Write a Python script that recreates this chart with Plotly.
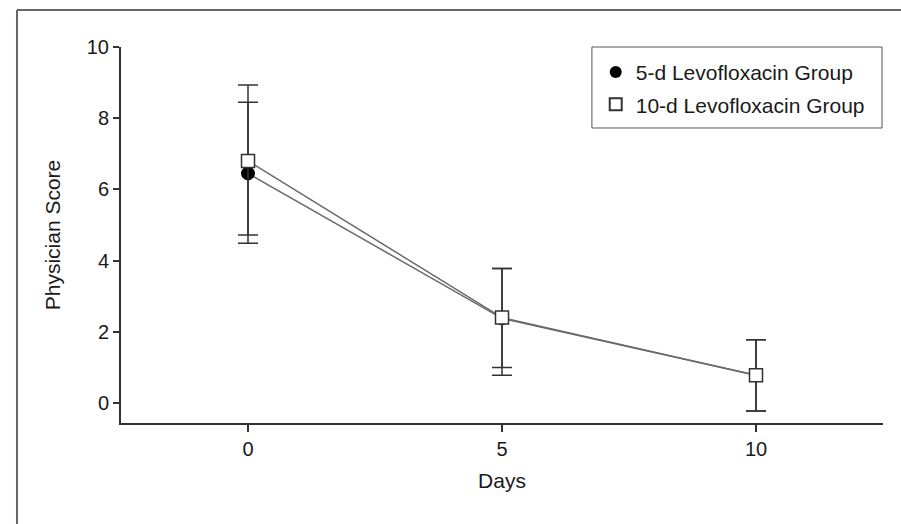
import plotly.graph_objects as go

days = [0, 5, 10]
group5_name = "5-d Levofloxacin Group"
group10_name = "10-d Levofloxacin Group"
group5_mean = [6.45, 2.38, 0.78]
group5_upper = [8.45, 3.78, 1.78]
group5_lower = [4.49, 0.78, -0.22]
group10_mean = [6.8, 2.4, 0.78]
group10_upper = [8.93, 3.78, 1.78]
group10_lower = [4.72, 1.0, -0.22]
x_ticks = [0, 5, 10]
y_ticks = [0, 2, 4, 6, 8, 10]

FONT = "Liberation Sans, Arial, Helvetica, sans-serif"
TXT = "#1a1a1a"

def err(mean, up, lo):
    return dict(
        type="data", symmetric=False,
        array=[u - m for u, m in zip(up, mean)],
        arrayminus=[m - l for m, l in zip(mean, lo)],
        color="#333333", thickness=1.5, width=10,
    )

fig = go.Figure()
fig.add_trace(go.Scatter(
    x=days, y=group5_mean, mode="lines+markers", showlegend=False,
    line=dict(color="#6a6a6a", width=1.5),
    marker=dict(symbol="circle", size=13, color="black", line=dict(color="black", width=1)),
    error_y=err(group5_mean, group5_upper, group5_lower),
))
fig.add_trace(go.Scatter(
    x=days, y=group10_mean, mode="lines+markers", showlegend=False,
    line=dict(color="#6a6a6a", width=1.5),
    marker=dict(symbol="square", size=13, color="white", line=dict(color="#333333", width=1.5)),
    error_y=err(group10_mean, group10_upper, group10_lower),
))
# legend-only entries (markers only, as in the reference)
fig.add_trace(go.Scatter(
    x=[None], y=[None], mode="markers", name=group5_name, legendgroup="a",
    marker=dict(symbol="circle", size=12, color="black"),
))
fig.add_trace(go.Scatter(
    x=[None], y=[None], mode="markers", name=group10_name, legendgroup="b",
    marker=dict(symbol="square", size=11, color="white", line=dict(color="#333333", width=1.2)),
))

axis_common = dict(
    showgrid=False, zeroline=False, showline=True, linecolor="#333333", linewidth=2,
    ticks="outside", tickcolor="#333333", tickwidth=1.5,
    tickfont=dict(family=FONT, size=20, color=TXT),
)
fig.update_xaxes(range=[-2.5, 12.5], tickvals=x_ticks, ticklen=7,
                 title=dict(text="Days", font=dict(family=FONT, size=21, color=TXT), standoff=14),
                 **axis_common)
fig.update_yaxes(range=[-0.56, 10], tickvals=y_ticks, ticklen=6,
                 title=dict(text="Physician Score", font=dict(family=FONT, size=21, color=TXT), standoff=20),
                 **axis_common)

# outer frame (left and top edges visible in the reference)
fig.add_shape(type="line", xref="paper", yref="paper", x0=-0.1365, x1=-0.1365, y0=1.0984, y1=-0.3,
              line=dict(color="#666666", width=2))
fig.add_shape(type="line", xref="paper", yref="paper", x0=-0.1365, x1=1.05, y0=1.0984, y1=1.0984,
              line=dict(color="#666666", width=2))
# legend box
fig.add_shape(type="rect", xref="paper", yref="paper", x0=0.618, x1=0.9987, y0=0.7846, y1=1.0,
              line=dict(color="#555555", width=1), fillcolor="white", layer="below")

fig.update_layout(
    width=901, height=524,
    margin=dict(l=121, r=18, t=47, b=101),
    paper_bgcolor="white", plot_bgcolor="white",
    font=dict(family=FONT, color=TXT),
    legend=dict(
        x=0.623, xanchor="left", y=0.987, yanchor="top",
        bgcolor="rgba(0,0,0,0)", borderwidth=0,
        font=dict(family=FONT, size=21, color=TXT),
        tracegroupgap=2, itemsizing="constant",
    ),
)

fig.write_html("out.html", config={"displayModeBar": False},
               post_script="document.body.style.margin='0';document.body.style.padding='0';")
